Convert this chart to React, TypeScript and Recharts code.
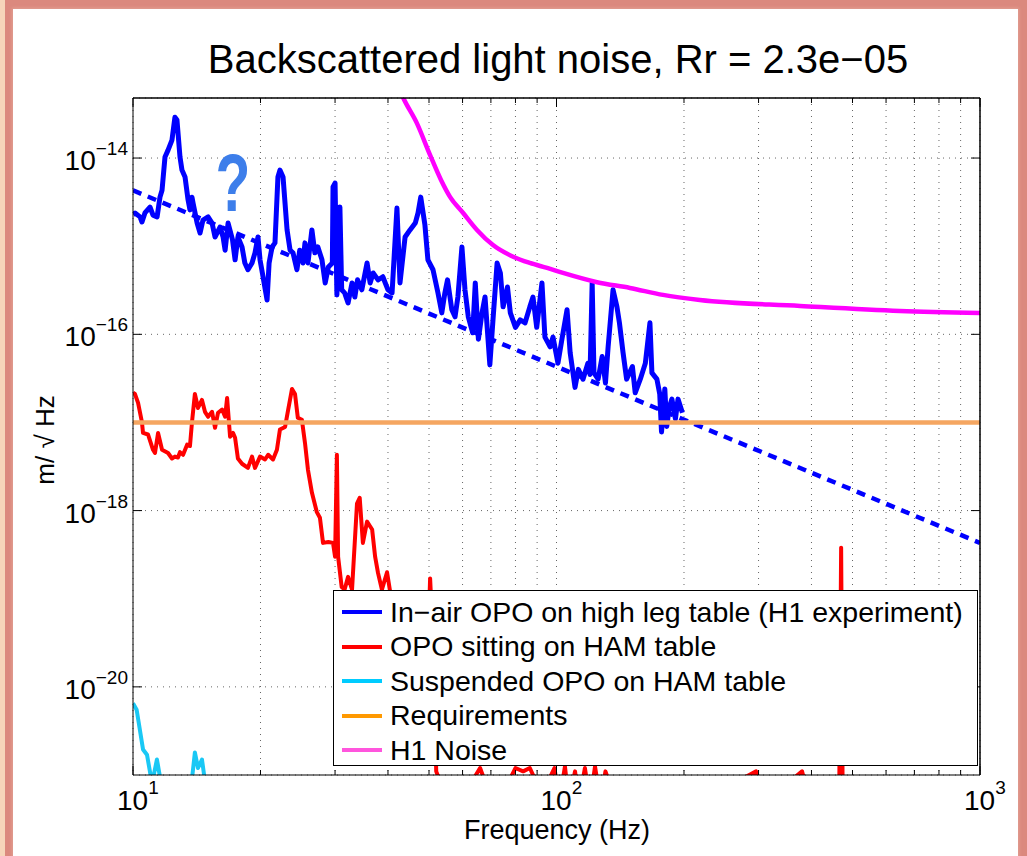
import React from "react";
import { LineChart, Line, XAxis, YAxis, CartesianGrid, ReferenceLine } from "recharts";

const W = 1027;
const H = 856;
const PLOT = { left: 133, right: 980, top: 98, bottom: 775 };
const FONT = '"Liberation Sans", Arial, Helvetica, sans-serif';

// axes
const FREQ_DOMAIN = [10, 1000];
const ASD_DOMAIN = [1e-21, 4.8e-14];
const FREQ_TICKS = [10, 20, 30, 40, 50, 60, 70, 80, 90, 100, 200, 300, 400, 500, 600, 700, 800, 900, 1000];
const FREQ_LABELED = [10, 100, 1000];
const ASD_TICKS = [1e-20, 1e-18, 1e-16, 1e-14];

// [frequency Hz, m/rtHz]
const inAirOpo: [number, number][] = [
  [10.0, 2.3e-15], [10.11, 2.38e-15], [10.39, 2.15e-15], [10.5, 1.88e-15], [10.67, 2.38e-15], [10.97, 2.78e-15],
  [11.15, 2.25e-15], [11.4, 2.15e-15], [11.58, 3.6e-15], [11.71, 4.3e-15], [11.9, 1.03e-14], [12.1, 1.23e-14],
  [12.36, 1.6e-14], [12.56, 2.9e-14], [12.7, 2.7e-14], [12.91, 1.03e-14], [13.05, 7.3e-15], [13.27, 6.1e-15],
  [13.49, 3.35e-15], [13.63, 2.58e-15], [13.78, 3.6e-15], [13.86, 3.09e-15], [14.17, 1.83e-15], [14.4, 1.41e-15],
  [14.63, 1.98e-15], [15.04, 2.15e-15], [15.37, 1.83e-15], [15.62, 1.27e-15], [16.05, 1.65e-15], [16.32, 1.27e-15],
  [16.5, 9.0e-16], [16.77, 1.83e-15], [17.18, 1.18e-15], [17.42, 7.0e-16], [17.69, 1.27e-15], [18.09, 9.8e-16],
  [18.37, 6.45e-16], [18.68, 5.4e-16], [19.1, 6.45e-16], [19.41, 8.4e-16], [19.73, 1.27e-15], [19.95, 7.0e-16],
  [20.28, 4.5e-16], [20.73, 2.45e-16], [20.96, 6.45e-16], [21.3, 9.8e-16], [21.64, 1.09e-15], [21.99, 6.1e-15],
  [22.23, 7.3e-15], [22.61, 6.1e-15], [23.11, 1.53e-15], [23.49, 9.0e-16], [23.87, 8.4e-16], [24.38, 5.4e-16],
  [24.76, 9.0e-16], [25.2, 6.45e-16], [25.47, 1.09e-15], [25.89, 6.45e-16], [26.45, 1.53e-15], [26.88, 8.4e-16],
  [27.32, 9.8e-16], [27.94, 7.0e-16], [28.43, 3.83e-16], [28.93, 5.8e-16], [29.56, 6.45e-16], [29.67, 4.7e-15],
  [30.0, 5.2e-15], [30.3, 2.8e-16], [30.8, 2.78e-15], [31.1, 3.2e-16], [31.6, 2.95e-16], [32.2, 2.27e-16],
  [32.9, 3.83e-16], [33.4, 2.65e-16], [33.9, 4.15e-16], [34.7, 3.2e-16], [35.7, 6.45e-16], [36.3, 3.83e-16],
  [36.9, 4.97e-16], [37.9, 4.15e-16], [38.9, 4.5e-16], [40.0, 3.2e-16], [40.9, 2.95e-16], [42.0, 2.71e-15],
  [42.7, 3.83e-16], [43.9, 1.27e-15], [45.1, 1.53e-15], [46.4, 1.83e-15], [47.1, 2.38e-15], [47.8, 3.6e-15],
  [48.9, 1.74e-15], [49.7, 7.0e-16], [51.1, 5.4e-16], [52.5, 2.95e-16], [53.6, 1.75e-16], [54.5, 2.95e-16],
  [55.3, 4.15e-16], [56.6, 1.9e-16], [57.6, 1.58e-16], [58.5, 2.65e-16], [59.8, 9.8e-16], [60.8, 3.2e-16],
  [61.9, 1.58e-16], [63.4, 1.04e-16], [64.3, 3.83e-16], [65.4, 8.8e-17], [66.7, 1.75e-16], [67.8, 2.65e-16],
  [69.6, 4.5e-17], [70.8, 1.46e-16], [72.4, 6.45e-16], [73.7, 4.97e-16], [74.8, 2.05e-16], [76.6, 3.45e-16],
  [77.8, 1.75e-16], [80.0, 1.2e-16], [82.1, 1.46e-16], [84.3, 1.35e-16], [86.5, 2.05e-16], [88.0, 2.65e-16],
  [89.8, 1.2e-16], [92.4, 3.83e-16], [93.9, 9.3e-17], [96.6, 7.2e-17], [98.1, 9.3e-17], [100.8, 4.7e-17],
  [103.0, 8.8e-17], [105.9, 1.9e-16], [107.7, 6.2e-17], [110.6, 2.5e-17], [112.6, 4.0e-17], [115.5, 3.1e-17],
  [118.6, 4.7e-17], [120.0, 3.5e-17], [121.4, 3.83e-16], [122.6, 3.65e-17], [125.4, 3.1e-17], [128.2, 5.6e-17],
  [130.5, 2.8e-17], [132.4, 7.2e-17], [136.0, 3.2e-16], [138.9, 2.05e-16], [140.8, 1.35e-16], [143.6, 6.2e-17],
  [146.4, 3.1e-17], [151.1, 4.3e-17], [153.4, 2.17e-17], [157.7, 3.1e-17], [162.1, 4.7e-17], [166.2, 1.35e-16],
  [168.0, 3.65e-17], [172.6, 3.1e-17], [175.3, 2.1e-17], [177.0, 7.8e-18], [180.2, 2.4e-17], [182.1, 9.0e-18],
  [184.7, 1.5e-17], [187.3, 1.84e-17], [190.9, 1.1e-17], [193.6, 1.84e-17], [198.3, 1.29e-17],
];

const hamTableOpo: [number, number][] = [
  [10.0, 2.17e-17], [10.11, 2.1e-17], [10.28, 1.67e-17], [10.5, 1.0e-17], [10.56, 7.6e-18], [10.85, 7.3e-18],
  [11.15, 4.9e-18], [11.27, 4.5e-18], [11.46, 7.6e-18], [11.71, 4.9e-18], [12.1, 4.5e-18], [12.36, 3.9e-18],
  [12.56, 4.1e-18], [12.77, 4.0e-18], [12.91, 4.6e-18], [13.13, 4.3e-18], [13.42, 5.6e-18], [13.63, 5.4e-18],
  [13.78, 1.0e-17], [14.0, 2.1e-17], [14.24, 1.46e-17], [14.55, 1.8e-17], [14.79, 1.32e-17], [15.04, 1.16e-17],
  [15.37, 1.32e-17], [15.62, 8.7e-18], [15.88, 1.29e-17], [16.23, 1.4e-17], [16.5, 1.16e-17], [16.68, 1.9e-17],
  [16.95, 6.9e-18], [17.23, 7.6e-18], [17.42, 6.7e-18], [17.69, 3.9e-18], [18.09, 3.4e-18], [18.68, 3.05e-18],
  [19.1, 4.1e-18], [19.41, 3.05e-18], [19.95, 4.1e-18], [20.5, 3.8e-18], [20.85, 4.3e-18], [21.41, 3.8e-18],
  [21.87, 4.9e-18], [22.23, 8.3e-18], [22.86, 8.9e-18], [23.24, 1.38e-17], [23.74, 2.4e-17], [24.13, 2.1e-17],
  [24.5, 1.13e-17], [25.05, 1.07e-17], [25.47, 5.9e-18], [25.89, 2.9e-18], [26.45, 1.6e-18], [27.17, 9.6e-19],
  [27.63, 8.3e-19], [28.1, 4.3e-19], [28.93, 4.4e-19], [29.67, 4.3e-19], [30.0, 3.0e-19], [30.3, 4.3e-18],
  [30.5, 3.0e-19], [31.1, 1.36e-19], [31.6, 1.27e-19], [32.2, 1.77e-19], [32.9, 1.27e-19], [33.8, 1.2e-18],
  [34.3, 1.4e-18], [34.9, 4.3e-19], [35.7, 7.5e-19], [36.7, 6.1e-19], [37.3, 3.0e-19], [37.9, 1.95e-19],
  [38.7, 1.27e-19], [39.8, 2.0e-19], [40.4, 1.27e-19], [41.6, 5.8e-20], [45.1, 7.3e-21], [47.6, 1.5e-21],
  [48.9, 2.5e-21], [50.3, 1.7e-19], [51.1, 3.4e-20], [52.0, 1.1e-21], [54.5, 6e-22], [59.2, 5e-22],
  [66.0, 1.2e-21], [69.6, 6e-22], [74.5, 6e-22], [80.0, 1.2e-21], [83.4, 1.1e-21], [86.5, 1.2e-21],
  [92.4, 6e-22], [98.9, 1.2e-21], [101.5, 5e-22], [104.7, 1.25e-21], [107.0, 5e-22], [110.6, 1.1e-21],
  [113.0, 5e-22], [116.7, 1.2e-21], [120.0, 5e-22], [123.3, 1.25e-21], [127.0, 5e-22], [130.5, 1.1e-21],
  [137.9, 5e-22], [218, 5e-22], [296, 1.1e-21], [312, 5e-22], [380, 1.1e-21], [397, 5e-22], [465, 5e-22],
  [470, 3.8e-19], [474, 5e-22], [1000, 5e-22],
];

const suspendedOpo: [number, number][] = [
  [10.0, 6.5e-21], [10.2, 5.5e-21], [10.56, 1.95e-21], [10.79, 1.7e-21], [11.09, 8e-22], [11.39, 1.5e-21],
  [11.71, 7e-22], [12.56, 3e-22], [13.49, 5e-22], [13.78, 9e-22], [14.0, 1.8e-21], [14.24, 1.2e-21],
  [14.55, 1.5e-21], [14.87, 7e-22], [16.0, 3e-22],
];

const requirement: [number, number][] = [[10, 1e-17], [1000, 1e-17]];

const h1Noise: [number, number][] = [
  [42.5, 6.2e-14], [43.4, 4.9e-14], [46.8, 2.49e-14], [50.3, 1.08e-14], [53.4, 5.6e-15], [56.1, 3.6e-15],
  [60.2, 2.38e-15], [64.9, 1.53e-15], [70.8, 1.03e-15], [79.0, 7.6e-16], [86.5, 6.45e-16], [95.0, 5.66e-16],
  [103.6, 4.97e-16], [124.7, 3.9e-16], [149, 3.36e-16], [178.5, 2.8e-16], [218, 2.45e-16], [376, 2.1e-16],
  [647, 1.84e-16], [1000, 1.75e-16],
];

// f^-2 guide line
const projection: [number, number][] = [[10, 4.3e-15], [1000, 4.3e-19]];

const LEGEND_NAMES = [
  "In\u2212air OPO on high leg table (H1 experiment)",
  "OPO sitting on HAM table",
  "Suspended OPO on HAM table",
  "Requirements",
  "H1 Noise",
];
const LEGEND_COLORS = ["#0000FF", "#FF0000", "#00CCFF", "#FF9900", "#FF55DD"];

const toRows = (pts: [number, number][]) => pts.map(([f, v]) => ({ f, v }));

function FreqTick(props: any) {
  const { x, payload } = props;
  const y = PLOT.bottom;
  const val = payload.value;
  const major = FREQ_LABELED.includes(val);
  const len = major ? 9 : 5;
  const exp = Math.round(Math.log10(val));
  return (
    <g>
      <line x1={x} x2={x} y1={y} y2={y - len} stroke="#000" strokeWidth={1} />
      <line x1={x} x2={x} y1={PLOT.top} y2={PLOT.top + len} stroke="#000" strokeWidth={1} />
      {major && (
        <text x={x - 16} y={y + 35} fontFamily={FONT} fontSize={28} fill="#000">
          10
          <tspan dy={-16} fontSize={19}>{exp}</tspan>
        </text>
      )}
    </g>
  );
}

function AsdTick(props: any) {
  const { y, payload } = props;
  const x = PLOT.left;
  const exp = Math.round(Math.log10(payload.value));
  return (
    <g>
      <line x1={x} x2={x + 9} y1={y} y2={y} stroke="#000" strokeWidth={1} />
      <line x1={PLOT.right} x2={PLOT.right - 9} y1={y} y2={y} stroke="#000" strokeWidth={1} />
      <text x={x - 5} y={y + 12} textAnchor="end" fontFamily={FONT} fontSize={28} fill="#000">
        10
        <tspan dy={-15} fontSize={19}>{`\u2212${-exp}`}</tspan>
      </text>
    </g>
  );
}

export default function App() {
  return (
    <div style={{ position: "absolute", left: 0, top: 0, width: W, height: H, overflow: "hidden", background: "#F6D5BA", fontFamily: FONT }}>
      <div style={{ position: "absolute", left: 5, top: 0, right: 0, bottom: 0, background: "#DB897E" }} />
      <div style={{ position: "absolute", left: 13, top: 9, right: 9, bottom: -10, background: "#fff", boxShadow: "0 0 3px 1px #E3A094" }} />

      <div style={{ position: "absolute", left: 0, width: 1116, top: 39, textAlign: "center", fontSize: 40, lineHeight: 1, color: "#000", whiteSpace: "nowrap" }}>
        Backscattered light noise, Rr = 2.3e{"\u2212"}05
      </div>

      <div style={{ position: "absolute", left: 0, top: 0 }}>
        <LineChart width={W} height={H} margin={{ top: PLOT.top, left: 0, right: W - PLOT.right, bottom: 0 }}>
          <CartesianGrid stroke="#666" strokeDasharray="1 5" />
          <XAxis
            dataKey="f"
            type="number"
            scale="log"
            domain={FREQ_DOMAIN}
            allowDataOverflow
            ticks={FREQ_TICKS}
            interval={0}
            height={H - PLOT.bottom}
            tickSize={0}
            tickMargin={0}
            tickLine={false}
            axisLine={{ stroke: "#000" }}
            tick={FreqTick}
          />
          <YAxis
            type="number"
            scale="log"
            domain={ASD_DOMAIN}
            allowDataOverflow
            ticks={ASD_TICKS}
            interval={0}
            width={PLOT.left}
            tickSize={0}
            tickMargin={0}
            tickLine={false}
            axisLine={{ stroke: "#000" }}
            tick={AsdTick}
          />

          <Line data={toRows(hamTableOpo)} dataKey="v" type="linear" stroke="#FF0000" strokeWidth={4} strokeLinejoin="round" dot={false} isAnimationActive={false} />
          <Line data={toRows(suspendedOpo)} dataKey="v" type="linear" stroke="#1AC8F5" strokeWidth={4} strokeLinejoin="round" dot={false} isAnimationActive={false} />
          <Line data={toRows(inAirOpo)} dataKey="v" type="linear" stroke="#0000FF" strokeWidth={5} strokeLinejoin="round" dot={false} isAnimationActive={false} />
          <Line data={toRows(projection)} dataKey="v" type="linear" stroke="#0000FF" strokeWidth={4.5} strokeDasharray="9 7" dot={false} isAnimationActive={false} />
          <Line data={toRows(requirement)} dataKey="v" type="linear" stroke="#F5A661" strokeWidth={4.5} dot={false} isAnimationActive={false} />
          <Line data={toRows(h1Noise)} dataKey="v" type="monotone" stroke="#FF00FF" strokeWidth={4.5} dot={false} isAnimationActive={false} />

          <ReferenceLine y={ASD_DOMAIN[1]} stroke="#000" strokeWidth={1.5} ifOverflow="visible" />
          <ReferenceLine x={FREQ_DOMAIN[1]} stroke="#000" strokeWidth={1.5} ifOverflow="visible" />
        </LineChart>
      </div>

      {/* annotation */}
      <div style={{ position: "absolute", left: 233, top: 214, transform: "translate(-50%, -100%) scale(0.95, 1.35)", transformOrigin: "50% 100%", fontSize: 60, lineHeight: 0.74, fontWeight: "bold", color: "#3D7EEA" }}>
        ?
      </div>

      <div style={{ position: "absolute", left: 333, top: 590, width: 645, height: 176, boxSizing: "border-box", border: "1.5px solid #000", background: "#fff", paddingTop: 4 }}>
        {LEGEND_NAMES.map((name, i) => (
          <div key={name} style={{ display: "flex", alignItems: "center", height: 34.5 }}>
            <div style={{ marginLeft: 8, width: 40, height: 4, background: LEGEND_COLORS[i] }} />
            <span style={{ marginLeft: 8, fontSize: 28.5, color: "#000", whiteSpace: "nowrap" }}>{name}</span>
          </div>
        ))}
      </div>

      <div style={{ position: "absolute", left: 0, width: 1114, top: 817, textAlign: "center", fontSize: 27, lineHeight: 1, color: "#000" }}>
        Frequency (Hz)
      </div>
      <div style={{ position: "absolute", left: 45, top: 440, transform: "translate(-50%, -50%) rotate(-90deg)", fontSize: 26, lineHeight: 1, color: "#000", whiteSpace: "nowrap" }}>
        m/ {"\u221A"} Hz
      </div>
    </div>
  );
}
